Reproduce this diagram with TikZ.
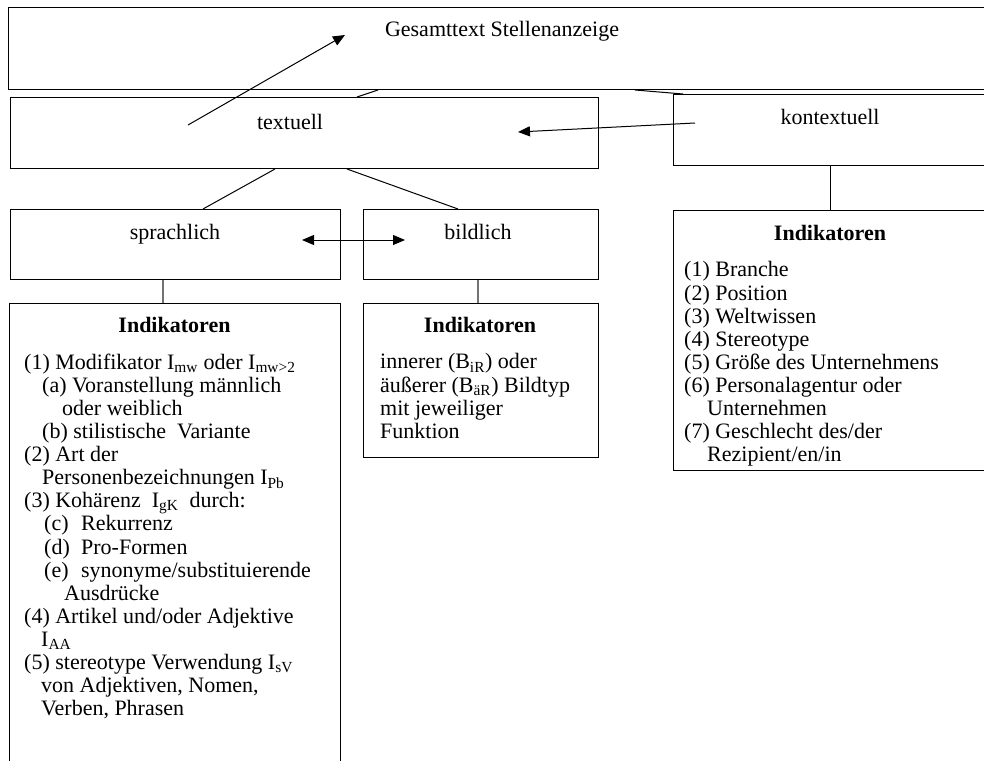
\documentclass[tikz,border=0pt]{standalone}
\usepackage{fontspec}
\setmainfont{Liberation Serif}
\usetikzlibrary{arrows.meta,calc}
\newcommand{\sbs}[1]{\textsubscript{#1}}
\begin{document}
\begin{tikzpicture}[x=1pt,y=-1pt,
  box/.style={draw=black,line width=1pt,rectangle,anchor=north west,inner sep=0pt},
  lbl/.style={anchor=base,inner sep=0pt,font=\fontsize{22pt}{23.1pt}\selectfont},
  head/.style={anchor=center,inner sep=0pt,font=\fontsize{22pt}{23.1pt}\selectfont\bfseries},
  body/.style={anchor=north west,inner sep=0pt,align=left,font=\fontsize{22pt}{23.1pt}\selectfont},
  conn/.style={draw=black,line width=1pt},
  gconn/.style={draw=black!55,line width=1.6pt},
  arr/.style={draw=black,line width=1pt,-{Triangle[length=12pt,width=10pt]}},
  darr/.style={draw=black,line width=1pt,{Triangle[length=12pt,width=10pt]}-{Triangle[length=12pt,width=10pt]}}
]
\useasboundingbox (0,0) rectangle (984,760);
\fill[white] (0,0) rectangle (984,760);

% boxes
\node[box,minimum width=982pt,minimum height=82pt] (gt) at (8,7) {};
\node[box,minimum width=588pt,minimum height=71pt] (tx) at (10,97) {};
\node[box,minimum width=317pt,minimum height=71pt] (kt) at (673,94) {};
\node[box,minimum width=330pt,minimum height=70pt] (sp) at (10,209) {};
\node[box,minimum width=235pt,minimum height=70pt] (bl) at (363,209) {};
\node[box,minimum width=331pt,minimum height=470pt] (ls) at (9,303) {};
\node[box,minimum width=235pt,minimum height=154pt] (ms) at (363,303) {};
\node[box,minimum width=315pt,minimum height=260pt] (rs) at (673,210) {};

% labels
\node[lbl] (tgt) at (502,37) {Gesamttext Stellenanzeige};
\node[lbl] (ttx) at (290,129) {textuell};
\node[lbl] (tkt) at (830,124) {kontextuell};
\node[lbl] (tsp) at (175,239) {sprachlich};
\node[lbl] (tbl) at (478,239) {bildlich};

\node[head] (hls) at (174.5,325) {Indikatoren};
\node[head] (hms) at (480,325) {Indikatoren};
\node[head] (hrs) at (830,233) {Indikatoren};

\node[body] (bls) at (24,353.5) {%
(1) Modifikator I\sbs{mw} oder I\sbs{mw>2}\\
\hspace*{18pt}(a) Voranstellung männlich\\
\hspace*{38pt}oder weiblich\\
\hspace*{18pt}(b) stilistische\ \ Variante\\
(2) Art der\\
\hspace*{18pt}Personenbezeichnungen I\sbs{Pb}\\
(3) Kohärenz\ \ I\sbs{gK}\ \ durch:\\
\hspace*{20pt}\makebox[37pt][l]{(c)}Rekurrenz\\
\hspace*{20pt}\makebox[37pt][l]{(d)}Pro-Formen\\
\hspace*{20pt}\makebox[37pt][l]{(e)}synonyme/substituierende\\
\hspace*{40pt}Ausdrücke\\
(4) Artikel und/oder Adjektive\\
\hspace*{17pt}I\sbs{AA}\\
(5) stereotype Verwendung I\sbs{sV}\\
\hspace*{17pt}von Adjektiven, Nomen,\\
\hspace*{17pt}Verben, Phrasen};

\node[body] (bms) at (380,353.5) {%
innerer (B\sbs{iR}) oder\\
äußerer (B\sbs{äR}) Bildtyp\\
mit jeweiliger\\
Funktion};

\node[body] (brs) at (684,261.5) {%
(1) Branche\\
(2) Position\\
(3) Weltwissen\\
(4) Stereotype\\
(5) Größe des Unternehmens\\
(6) Personalagentur oder\\
\hspace*{23pt}Unternehmen\\
(7) Geschlecht des/der\\
\hspace*{23pt}Rezipient/en/in};

% connectors
\draw[conn] ($(gt.south west)+(370,0)$) -- ($(tx.north west)+(347,0)$);
\draw[conn] ($(gt.south west)+(627,0)$) -- ($(kt.north west)+(10,0)$);
\draw[conn] ($(tx.south west)+(265,0)$) -- ($(sp.north west)+(193,0)$);
\draw[conn] ($(tx.south west)+(337,0)$) -- ($(bl.north west)+(95,0)$);
\draw[conn] ($(kt.south west)+(157,0)$) -- ($(rs.north west)+(157,0)$);
\draw[gconn] ($(sp.south west)+(153,0)$) -- ($(ls.north west)+(154,0)$);
\draw[gconn] ($(bl.south west)+(115,0)$) -- ($(ms.north west)+(115,0)$);

% arrows
\draw[arr] ($(tx.north west)+(178,28)$) -- ($(gt.north west)+(337,28)$);
\draw[arr] ($(kt.north west)+(22,29)$) -- ($(tx.north west)+(508,35)$);
\draw[darr] ($(sp.north west)+(292,31)$) -- ($(bl.north west)+(42,31)$);
\end{tikzpicture}
\end{document}
